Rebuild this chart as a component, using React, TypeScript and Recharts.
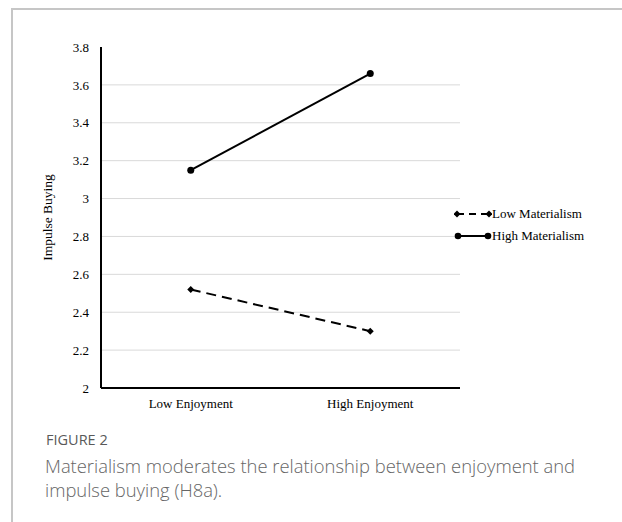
import React from "react";
import { LineChart, Line, XAxis, YAxis, CartesianGrid } from "recharts";

// values
const conditions = ["Low Enjoyment", "High Enjoyment"];
const lowMaterialism = [2.52, 2.3];
const highMaterialism = [3.15, 3.66];
const yTicks = [2, 2.2, 2.4, 2.6, 2.8, 3, 3.2, 3.4, 3.6, 3.8];
const gridValues = [2.2, 2.4, 2.6, 2.8, 3, 3.2, 3.4, 3.6];

const data = conditions.map((c, i) => ({
  condition: c,
  low: lowMaterialism[i],
  high: highMaterialism[i],
}));

const serif = "'Liberation Serif', 'Times New Roman', serif";

const Diamond = (props: any) => {
  const { cx, cy } = props;
  if (cx == null || cy == null) return null;
  const s = 3.5;
  return (
    <path
      d={`M${cx},${cy - s}L${cx + s},${cy}L${cx},${cy + s}L${cx - s},${cy}Z`}
      fill="#000"
    />
  );
};

const Dot = (props: any) => {
  const { cx, cy } = props;
  if (cx == null || cy == null) return null;
  return <circle cx={cx} cy={cy} r={3.5} fill="#000" />;
};

function LegendBox() {
  const items = [
    { label: "Low Materialism", dashed: true },
    { label: "High Materialism", dashed: false },
  ];
  return (
    <div style={{ fontFamily: serif, fontSize: 13, color: "#000" }}>
      {items.map((it) => (
        <div
          key={it.label}
          style={{ display: "flex", alignItems: "center", height: 22 }}
        >
          <svg width={38} height={10}>
            <line
              x1={3}
              y1={5}
              x2={35}
              y2={5}
              stroke="#000"
              strokeWidth={2}
              strokeDasharray={it.dashed ? "7 5" : undefined}
            />
            {it.dashed ? (
              <>
                <path d="M3,1.5L6.5,5L3,8.5L-0.5,5Z" fill="#000" />
                <path d="M35,1.5L38.5,5L35,8.5L31.5,5Z" fill="#000" />
              </>
            ) : (
              <>
                <circle cx={4} cy={5} r={3.3} fill="#000" />
                <circle cx={34} cy={5} r={3.3} fill="#000" />
              </>
            )}
          </svg>
          <span>{it.label}</span>
        </div>
      ))}
    </div>
  );
}

export default function App() {
  return (
    <div
      style={{
        position: "relative",
        width: 622,
        height: 522,
        background: "#fff",
        overflow: "hidden",
      }}
    >
      <style>{`html,body{margin:0;padding:0;overflow:hidden}`}</style>
      {/* page frame */}
      <div
        style={{
          position: "absolute",
          left: 11,
          top: 8,
          width: 2,
          height: 520,
          background: "#c6c6c6",
        }}
      />
      <div
        style={{
          position: "absolute",
          left: 11,
          top: 8,
          width: 700,
          height: 2,
          background: "#c6c6c6",
        }}
      />
      <div style={{ position: "absolute", left: 0, top: 0 }}>
        <LineChart
          width={622}
          height={420}
          data={data}
          margin={{ top: 47, right: 162, bottom: 2, left: 41 }}
        >
          <CartesianGrid
            vertical={false}
            stroke="#d9d9d9"
            horizontalValues={gridValues}
          />
          <XAxis
            dataKey="condition"
            scale="band"
            height={30}
            axisLine={{ stroke: "#000", strokeWidth: 2 }}
            tickLine={false}
            tickSize={0}
            tickMargin={11}
            tick={{ fill: "#000", fontSize: 13, fontFamily: serif }}
          />
          <YAxis
            width={60}
            domain={[2, 3.8]}
            ticks={yTicks}
            interval={0}
            tickFormatter={(v: number) => String(Math.round(v * 10) / 10)}
            axisLine={{ stroke: "#000", strokeWidth: 2 }}
            tickLine={false}
            tickSize={0}
            tickMargin={12}
            tick={{ fill: "#000", fontSize: 13, fontFamily: serif }}
            label={{
              value: "Impulse Buying",
              angle: -90,
              position: "insideLeft",
              offset: 6,
              style: {
                textAnchor: "middle",
                fill: "#000",
                fontSize: 13.5,
                fontFamily: serif,
              },
            }}
          />
          <Line
            dataKey="low"
            name="Low Materialism"
            stroke="#000"
            strokeWidth={2}
            strokeDasharray="10 6"
            dot={<Diamond />}
            activeDot={false}
            isAnimationActive={false}
          />
          <Line
            dataKey="high"
            name="High Materialism"
            stroke="#000"
            strokeWidth={2}
            dot={<Dot />}
            activeDot={false}
            isAnimationActive={false}
          />
        </LineChart>
      </div>
      <div style={{ position: "absolute", left: 454, top: 203 }}>
        <LegendBox />
      </div>
      <div
        style={{
          position: "absolute",
          left: 46,
          top: 430,
          fontFamily: "'Open Sans', sans-serif",
          fontSize: 14.5,
          color: "#595959",
        }}
      >
        FIGURE 2
      </div>
      <div
        style={{
          position: "absolute",
          left: 45,
          top: 454,
          width: 570,
          fontFamily: "'Open Sans', sans-serif",
          fontSize: 18.4,
          lineHeight: "24px",
          color: "#666",
          fontWeight: 300,
        }}
      >
        Materialism moderates the relationship between enjoyment and
        <br />
        impulse buying (H8a).
      </div>
    </div>
  );
}
